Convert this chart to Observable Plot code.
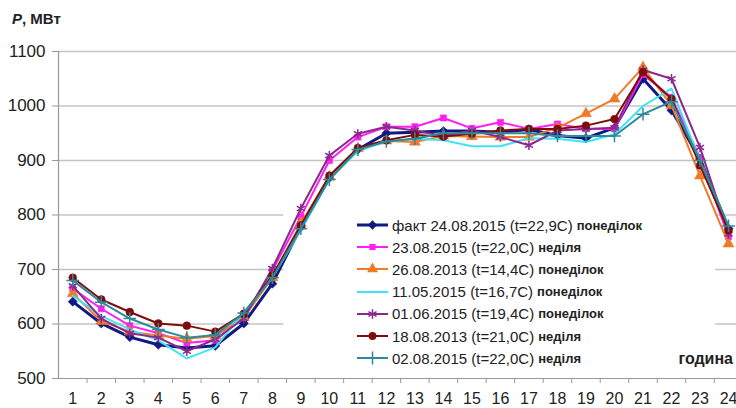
<!DOCTYPE html>
<html><head><meta charset="utf-8">
<script src="https://cdn.jsdelivr.net/npm/d3@7"></script>
<script src="https://cdn.jsdelivr.net/npm/@observablehq/plot@0.6"></script>
<style>
body{margin:0;background:#fff;font-family:"Liberation Sans",Arial,sans-serif;}
#wrap{position:relative;width:736px;height:408px;overflow:hidden;}
#title{position:absolute;left:12px;top:10px;font-size:15px;font-weight:bold;color:#222;}
#legend{position:absolute;left:357px;top:214px;}
.row{height:22.2px;display:flex;align-items:center;white-space:nowrap;color:#222}
.row svg{margin-right:2px}
.d{font-size:15px;} .w{font-size:13px;font-weight:bold;margin-left:4px}
#unit{position:absolute;right:3px;top:350px;font-size:16px;font-weight:bold;color:#222}
</style></head>
<body><div id="wrap"></div>
<script>
// ---- data ----
const hours = [1,2,3,4,5,6,7,8,9,10,11,12,13,14,15,16,17,18,19,20,21,22,23,24];
const yTicks = [500,600,700,800,900,1000,1100];
const gridFull = [900,1000,1100];
const gridSplit = [600,700,800];
const legendGap = [8.4, 23.55];

const seriesNames = [
  ["факт 24.08.2015 (t=22,9C)", "понеділок"],
  ["23.08.2015 (t=22,0C)", "неділя"],
  ["26.08.2013 (t=14,4C)", "понеділок"],
  ["11.05.2015 (t=16,7C)", "понеділок"],
  ["01.06.2015 (t=19,4C)", "понеділок"],
  ["18.08.2013 (t=21,0C)", "неділя"],
  ["02.08.2015 (t=22,0C)", "неділя"]
];
const fact    = [641,601,576,562,556,560,601,674,778,868,920,950,952,954,954,952,957,946,941,960,1050,992,903,775];
const s2308   = [665,628,597,583,565,570,612,698,797,900,943,962,962,978,959,970,958,967,958,958,1058,1016,905,760];
const s2608   = [656,605,586,579,573,578,612,685,785,870,922,936,934,945,944,943,943,960,986,1013,1071,1001,872,747];
const s1105   = [652,615,590,570,537,557,622,685,772,865,918,935,940,937,926,926,941,940,934,948,1000,1032,900,778];
const s0106   = [670,610,583,575,550,572,610,702,812,909,949,962,955,945,955,943,928,955,958,960,1066,1050,924,765];
const s1808   = [685,645,622,601,597,586,619,689,781,872,923,937,947,944,949,955,958,958,964,976,1062,1013,891,772];
const s0208   = [680,640,610,590,575,580,620,685,775,865,920,935,940,950,950,950,950,945,945,945,985,1008,900,780];
const seriesValues = [fact, s2308, s2608, s1105, s0106, s1808, s0208];

// ---- styles ----
const colors = ["#101a82","#ff1ff0","#f27a26","#3fe4f2","#8a2a8c","#7e0c0c","#2b8a9c"];
const lineWidths = [3,2,2,2,2,2,2];
const diamond = {draw(ctx, size){const s=Math.sqrt(size)/2*Math.SQRT2;ctx.moveTo(0,-s);ctx.lineTo(s,0);ctx.lineTo(0,s);ctx.lineTo(-s,0);ctx.closePath();}};
const symbols = [diamond,"square","triangle",null,"asterisk","circle","plus"];
const d3symbols = [diamond,d3.symbolSquare,d3.symbolTriangle,null,d3.symbolAsterisk,d3.symbolCircle,d3.symbolPlus];
const strokeSym = [false,false,false,false,true,false,true];
const radii = [3.7,3.5,4.1,0,4.4,3.9,4.2];

const marks = [];
marks.push(Plot.ruleY(gridFull, {stroke:"#c4c4c4", strokeWidth:1.5}));
const segs = [];
for (const g of gridSplit) { segs.push({y:g,x1:0.5,x2:legendGap[0]}); segs.push({y:g,x1:legendGap[1],x2:24.3}); }
marks.push(Plot.ruleY(segs, {y:"y", x1:"x1", x2:"x2", stroke:"#c4c4c4", strokeWidth:1.5}));
marks.push(Plot.ruleX([0.5], {stroke:"#999", strokeWidth:1.2}));
marks.push(Plot.ruleY([500], {stroke:"#999", strokeWidth:1.2}));
marks.push(Plot.axisY({ticks:yTicks, tickSize:6, tickPadding:7, stroke:"#999", label:null, fontSize:17, tickFormat:d=>String(d)}));
marks.push(Plot.axisX({ticks:hours, tickSize:0, tickPadding:14, label:null, fontSize:16, tickFormat:d=>String(d)}));
marks.push(Plot.axisX({ticks:hours.map(h=>h+0.5), tickSize:5, stroke:"#999", tickFormat:()=>"", label:null}));

seriesValues.forEach((vals,i)=>{
  const data = hours.map((h,j)=>({hour:h, value:vals[j]}));
  marks.push(Plot.line(data, {x:"hour", y:"value", stroke:colors[i], strokeWidth:lineWidths[i]}));
  if (symbols[i]) {
    marks.push(Plot.dot(data, strokeSym[i]
      ? {x:"hour", y:"value", symbol:symbols[i], r:radii[i], stroke:colors[i], fill:"none", strokeWidth:1.5}
      : {x:"hour", y:"value", symbol:symbols[i], r:radii[i], fill:colors[i], stroke:colors[i], strokeWidth:0.5}));
  }
});

const chart = Plot.plot({
  width:736, height:408,
  marginLeft:58, marginRight:0, marginTop:51, marginBottom:30,
  x:{type:"linear", domain:[0.5,24.28]},
  y:{domain:[500,1100]},
  style:{fontFamily:"'Liberation Sans', Arial, sans-serif", color:"#222", background:"#fff"},
  marks
});
const wrap = document.getElementById("wrap");
wrap.appendChild(chart);

const t = document.createElement("div"); t.id="title";
t.innerHTML = "<i>P</i>, МВт"; wrap.appendChild(t);
const u = document.createElement("div"); u.id="unit"; u.textContent="година"; wrap.appendChild(u);

const lg = document.createElement("div"); lg.id="legend";
seriesNames.forEach((nm,i)=>{
  const row = document.createElement("div"); row.className="row";
  const svg = d3.create("svg").attr("width",33).attr("height",16);
  svg.append("line").attr("x1",0).attr("x2",31).attr("y1",8).attr("y2",8)
     .attr("stroke",colors[i]).attr("stroke-width",lineWidths[i]);
  if (d3symbols[i]) {
    const p = svg.append("path").attr("transform","translate(15.5,8)")
      .attr("d", d3.symbol(d3symbols[i], Math.PI*radii[i]*radii[i])());
    if (strokeSym[i]) p.attr("fill","none").attr("stroke",colors[i]).attr("stroke-width",1.5);
    else p.attr("fill",colors[i]);
  }
  row.appendChild(svg.node());
  const a = document.createElement("span"); a.className="d"; a.textContent=nm[0];
  const b = document.createElement("span"); b.className="w"; b.textContent=nm[1];
  row.appendChild(a); row.appendChild(b);
  lg.appendChild(row);
});
wrap.appendChild(lg);
</script></body></html>
